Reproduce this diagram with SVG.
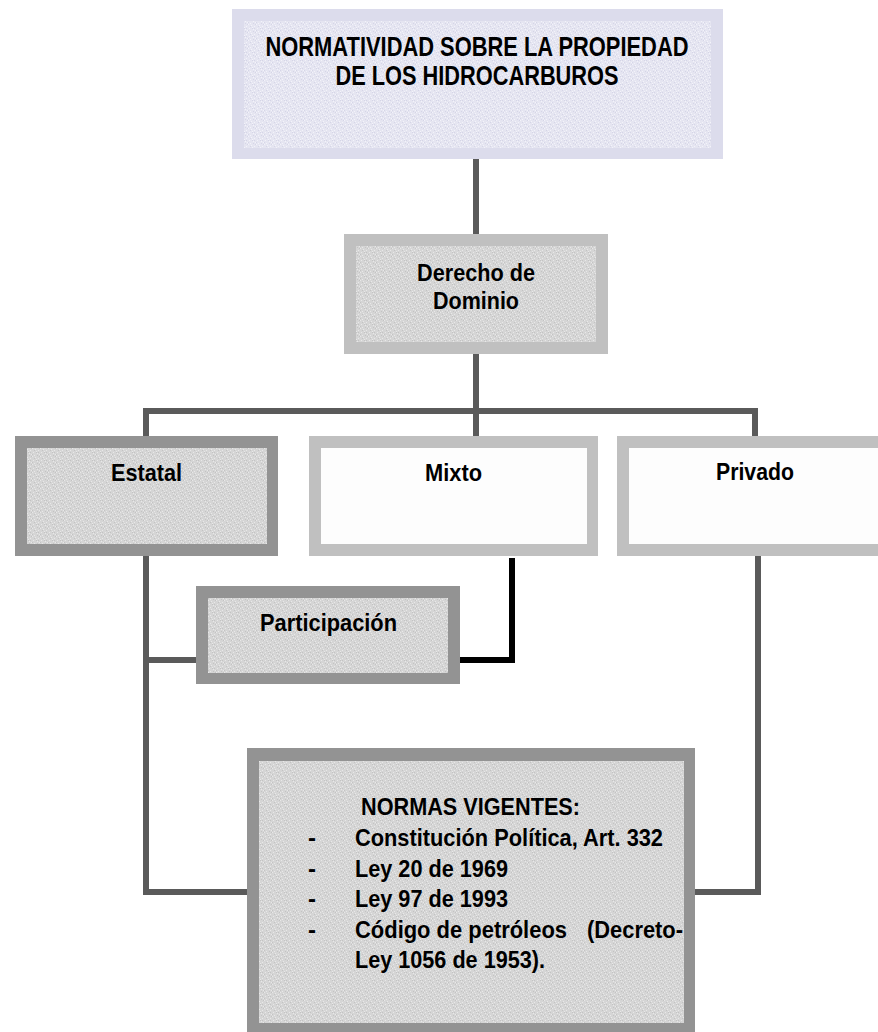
<svg xmlns="http://www.w3.org/2000/svg" width="878" height="1032" viewBox="0 0 878 1032">
  <defs>
    <!-- grainy paper-like fills used inside the boxes -->
    <pattern id="grain-gray" width="8" height="8" patternUnits="userSpaceOnUse">
      <rect width="8" height="8" fill="#d5d5d5"/>
      <g fill="#e8e8e8">
        <rect x="0" y="0" width="1" height="1"/><rect x="3" y="1" width="1" height="1"/>
        <rect x="6" y="2" width="1" height="1"/><rect x="1" y="4" width="1" height="1"/>
        <rect x="5" y="5" width="1" height="1"/><rect x="2" y="7" width="1" height="1"/>
        <rect x="7" y="6" width="1" height="1"/><rect x="4" y="3" width="1" height="1"/>
      </g>
      <g fill="#c3c3c3">
        <rect x="2" y="2" width="1" height="1"/><rect x="7" y="0" width="1" height="1"/>
        <rect x="4" y="4" width="1" height="1"/><rect x="0" y="6" width="1" height="1"/>
        <rect x="5" y="7" width="1" height="1"/><rect x="6" y="4" width="1" height="1"/>
      </g>
    </pattern>
    <pattern id="grain-lavender" width="8" height="8" patternUnits="userSpaceOnUse">
      <rect width="8" height="8" fill="#e5e5f1"/>
      <g fill="#f3f3fa">
        <rect x="0" y="0" width="1" height="1"/><rect x="3" y="1" width="1" height="1"/>
        <rect x="6" y="2" width="1" height="1"/><rect x="1" y="4" width="1" height="1"/>
        <rect x="5" y="5" width="1" height="1"/><rect x="2" y="7" width="1" height="1"/>
        <rect x="7" y="6" width="1" height="1"/><rect x="4" y="3" width="1" height="1"/>
      </g>
      <g fill="#d5d5e7">
        <rect x="2" y="2" width="1" height="1"/><rect x="7" y="0" width="1" height="1"/>
        <rect x="4" y="4" width="1" height="1"/><rect x="0" y="6" width="1" height="1"/>
        <rect x="5" y="7" width="1" height="1"/><rect x="6" y="4" width="1" height="1"/>
      </g>
    </pattern>
  </defs>
  <style>
    text { font-family: "Liberation Sans", Arial, sans-serif; font-weight: bold; fill: #000; }
    .title { font-size: 28px; }
    .label { font-size: 24px; }
    .mid { text-anchor: middle; }
    .frame-dark { fill: #939393; }
    .frame-light { fill: #c0c0c0; }
    .frame-lav { fill: #dcdcec; }
    .inner-gray { fill: url(#grain-gray); }
    .inner-lav { fill: url(#grain-lavender); }
    .inner-white { fill: #fdfdfd; }
    .conn { fill: none; stroke: #5a5a5a; stroke-width: 6; stroke-linejoin: miter; }
    .conn-black { fill: none; stroke: #000; stroke-width: 6; stroke-linejoin: miter; }
  </style>

  <rect width="878" height="1032" fill="#ffffff"/>

  <!-- connectors -->
  <g id="connectors">
    <path class="conn" d="M476,159 V234"/>
    <path class="conn" d="M476,354 V436"/>
    <path class="conn" d="M146,436 V411 H755 V436"/>
    <path class="conn" d="M146,556 V892 H247"/>
    <path class="conn" d="M146,660 H196"/>
    <path class="conn" d="M758,548 V892 H695"/>
    <path class="conn-black" d="M457,660 H512 V558"/>
  </g>

  <!-- title -->
  <g id="node-normatividad">
    <rect class="frame-lav" x="232" y="9" width="491" height="150"/>
    <rect class="inner-lav" x="244" y="21" width="467" height="127"/>
    <text class="title mid" x="477" y="56" textLength="423" lengthAdjust="spacingAndGlyphs">NORMATIVIDAD SOBRE LA PROPIEDAD</text>
    <text class="title mid" x="477" y="85" textLength="283" lengthAdjust="spacingAndGlyphs">DE LOS HIDROCARBUROS</text>
  </g>

  <g id="node-derecho">
    <rect class="frame-light" x="344" y="234" width="264" height="120"/>
    <rect class="inner-gray" x="356" y="246" width="240" height="96"/>
    <text class="label mid" x="476" y="281" textLength="118" lengthAdjust="spacingAndGlyphs">Derecho de</text>
    <text class="label mid" x="476" y="309" textLength="86" lengthAdjust="spacingAndGlyphs">Dominio</text>
  </g>

  <g id="node-estatal">
    <rect class="frame-dark" x="15" y="436" width="263" height="120"/>
    <rect class="inner-gray" x="27" y="448" width="240" height="96"/>
    <text class="label mid" x="146.5" y="481" textLength="71" lengthAdjust="spacingAndGlyphs">Estatal</text>
  </g>

  <g id="node-mixto">
    <rect class="frame-light" x="309" y="436" width="289" height="120"/>
    <rect class="inner-white" x="321" y="448" width="266" height="96"/>
    <text class="label mid" x="453.5" y="481" textLength="57" lengthAdjust="spacingAndGlyphs">Mixto</text>
  </g>

  <g id="node-privado">
    <rect class="frame-light" x="617" y="436" width="276" height="120"/>
    <rect class="inner-white" x="629" y="448" width="252" height="96"/>
    <text class="label mid" x="755" y="480" textLength="78" lengthAdjust="spacingAndGlyphs">Privado</text>
  </g>

  <g id="node-participacion">
    <rect class="frame-dark" x="196" y="586" width="264" height="98"/>
    <rect class="inner-gray" x="208" y="598" width="240" height="75"/>
    <text class="label mid" x="328.5" y="631" textLength="137" lengthAdjust="spacingAndGlyphs">Participación</text>
  </g>

  <g id="node-normas">
    <rect class="frame-dark" x="247" y="748" width="448" height="290"/>
    <rect class="inner-gray" x="259" y="761" width="425" height="262"/>
    <text class="label" x="361" y="815" textLength="219" lengthAdjust="spacingAndGlyphs">NORMAS VIGENTES:</text>
    <text class="label" x="308" y="846">-</text>
    <text class="label" x="355" y="846" textLength="308" lengthAdjust="spacingAndGlyphs">Constitución Política, Art. 332</text>
    <text class="label" x="308" y="877">-</text>
    <text class="label" x="355" y="877" textLength="153" lengthAdjust="spacingAndGlyphs">Ley 20 de 1969</text>
    <text class="label" x="308" y="907">-</text>
    <text class="label" x="355" y="907" textLength="153" lengthAdjust="spacingAndGlyphs">Ley 97 de 1993</text>
    <text class="label" x="308" y="938">-</text>
    <text class="label" x="355" y="938" textLength="212" lengthAdjust="spacingAndGlyphs">Código de petróleos</text>
    <text class="label" x="587" y="938" textLength="96" lengthAdjust="spacingAndGlyphs">(Decreto-</text>
    <text class="label" x="355" y="968" textLength="190" lengthAdjust="spacingAndGlyphs">Ley 1056 de 1953).</text>
  </g>
</svg>
